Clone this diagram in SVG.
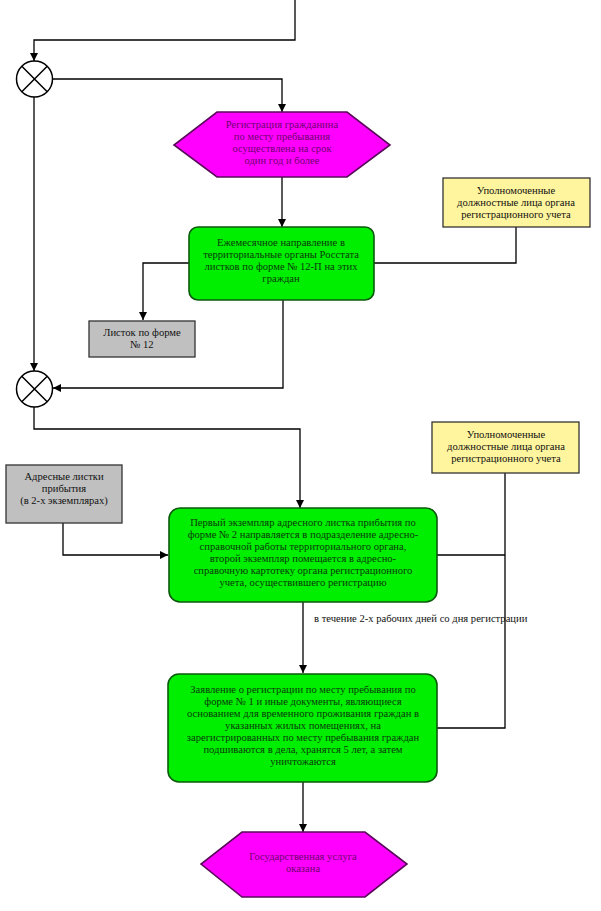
<svg xmlns="http://www.w3.org/2000/svg" width="601" height="911" viewBox="0 0 601 911">
<defs>
<marker id="arr" viewBox="0 0 10 10" refX="10" refY="5" markerWidth="8" markerHeight="8" markerUnits="userSpaceOnUse" orient="auto">
<path d="M0,0 L10,5 L0,10 Z" fill="#000"/>
</marker>
<style>
.ln{fill:none;stroke:#000;stroke-width:1.3}
.la{fill:none;stroke:#000;stroke-width:1.3;marker-end:url(#arr)}
.hex{fill:#FF00FF;stroke:#5A0A5A;stroke-width:1.6}
.grn{fill:#00EE00;stroke:#0B5A0B;stroke-width:1.6}
.yel{fill:#FFF59E;stroke:#333;stroke-width:1.3}
.gry{fill:#C0C0C0;stroke:#333;stroke-width:1.3}
.circ{fill:#fff;stroke:#000;stroke-width:1.5}
text{font-family:"Liberation Serif","Times New Roman",serif;font-size:10.6px;text-anchor:middle}
.tp{fill:#700070}
.tg{fill:#0A3A0A}
.tk{fill:#111}
</style>
</defs>
<rect width="601" height="911" fill="#fff"/>
<g id="connectors">
<polyline class="la" points="295,0 295,40 34,40 34,61"/>
<polyline class="la" points="52,79 282,79 282,112"/>
<line class="la" x1="34" y1="97" x2="34" y2="371"/>
<line class="la" x1="282" y1="177" x2="282" y2="227"/>
<polyline class="ln" points="516,227 516,263 374,263"/>
<polyline class="la" points="189,263 143,263 143,320"/>
<polyline class="la" points="283,300 283,388 53,388"/>
<polyline class="la" points="34,407 34,429 300,429 300,508"/>
<polyline class="la" points="63,523 63,555 168,555"/>
<polyline class="ln" points="505,473 505,728 437,728"/>
<line class="ln" x1="437" y1="555" x2="505" y2="555"/>
<line class="la" x1="303" y1="602" x2="303" y2="673"/>
<line class="la" x1="303" y1="782" x2="303" y2="832"/>
<text class="tk" x="314" y="622" style="text-anchor:start">в течение 2-х рабочих дней со дня регистрации</text>
</g>
<g id="join1">
<circle class="circ" cx="34.5" cy="79" r="18"/>
<path class="ln" d="M21.8,66.3 L47.2,91.7 M47.2,66.3 L21.8,91.7" style="stroke-width:1.5"/>
</g>
<g id="join2">
<circle class="circ" cx="34.5" cy="389" r="18"/>
<path class="ln" d="M21.8,376.3 L47.2,401.7 M47.2,376.3 L21.8,401.7" style="stroke-width:1.5"/>
</g>
<g id="start">
<polygon class="hex" points="217,112 347,112 390,145 347,177 217,177 174,145"/>
<text class="tp" x="282" y="128">Регистрация гражданина</text>
<text class="tp" x="282" y="140">по месту пребывания</text>
<text class="tp" x="282" y="152">осуществлена на срок</text>
<text class="tp" x="282" y="164">один год и более</text>
</g>
<g id="monthly">
<rect class="grn" x="189" y="227" width="185" height="73" rx="9"/>
<text class="tg" x="281" y="246">Ежемесячное направление в</text>
<text class="tg" x="281" y="258">территориальные органы Росстата</text>
<text class="tg" x="281" y="270">листков по форме № 12-П на этих</text>
<text class="tg" x="281" y="282">граждан</text>
</g>
<g id="officials1">
<rect class="yel" x="443" y="178" width="147" height="49"/>
<text class="tk" x="516" y="194">Уполномоченные</text>
<text class="tk" x="516" y="206">должностные лица органа</text>
<text class="tk" x="516" y="218">регистрационного учета</text>
</g>
<g id="form12">
<rect class="gry" x="89" y="321" width="106" height="36"/>
<text class="tk" x="142" y="336">Листок по форме</text>
<text class="tk" x="142" y="348">№ 12</text>
</g>
<g id="addresssheets">
<rect class="gry" x="6" y="465" width="116" height="58"/>
<text class="tk" x="64" y="480">Адресные листки</text>
<text class="tk" x="64" y="492">прибытия</text>
<text class="tk" x="64" y="504">(в 2-х экземплярах)</text>
</g>
<g id="officials2">
<rect class="yel" x="432" y="422" width="147" height="51"/>
<text class="tk" x="506" y="438">Уполномоченные</text>
<text class="tk" x="506" y="450">должностные лица органа</text>
<text class="tk" x="506" y="462">регистрационного учета</text>
</g>
<g id="firstcopy">
<rect class="grn" x="169" y="508" width="268" height="94" rx="11"/>
<text class="tg" x="303" y="526">Первый экземпляр адресного листка прибытия по</text>
<text class="tg" x="303" y="538">форме № 2 направляется в подразделение адресно-</text>
<text class="tg" x="303" y="550">справочной работы территориального органа,</text>
<text class="tg" x="303" y="562">второй экземпляр помещается в адресно-</text>
<text class="tg" x="303" y="574">справочную картотеку органа регистрационного</text>
<text class="tg" x="303" y="586">учета, осуществившего регистрацию</text>
</g>
<g id="application">
<rect class="grn" x="168" y="674" width="269" height="108" rx="11"/>
<text class="tg" x="303" y="693">Заявление о регистрации по месту пребывания по</text>
<text class="tg" x="303" y="705">форме № 1 и иные документы, являющиеся</text>
<text class="tg" x="303" y="717">основанием для временного проживания граждан в</text>
<text class="tg" x="303" y="729">указанных жилых помещениях, на</text>
<text class="tg" x="303" y="741">зарегистрированных по месту пребывания граждан</text>
<text class="tg" x="303" y="753">подшиваются в дела, хранятся 5 лет, а затем</text>
<text class="tg" x="303" y="765">уничтожаются</text>
</g>
<g id="end">
<polygon class="hex" points="242,832 365,832 407,864 365,897 242,897 201,864"/>
<text class="tp" x="303" y="860">Государственная услуга</text>
<text class="tp" x="303" y="872">оказана</text>
</g>
</svg>
